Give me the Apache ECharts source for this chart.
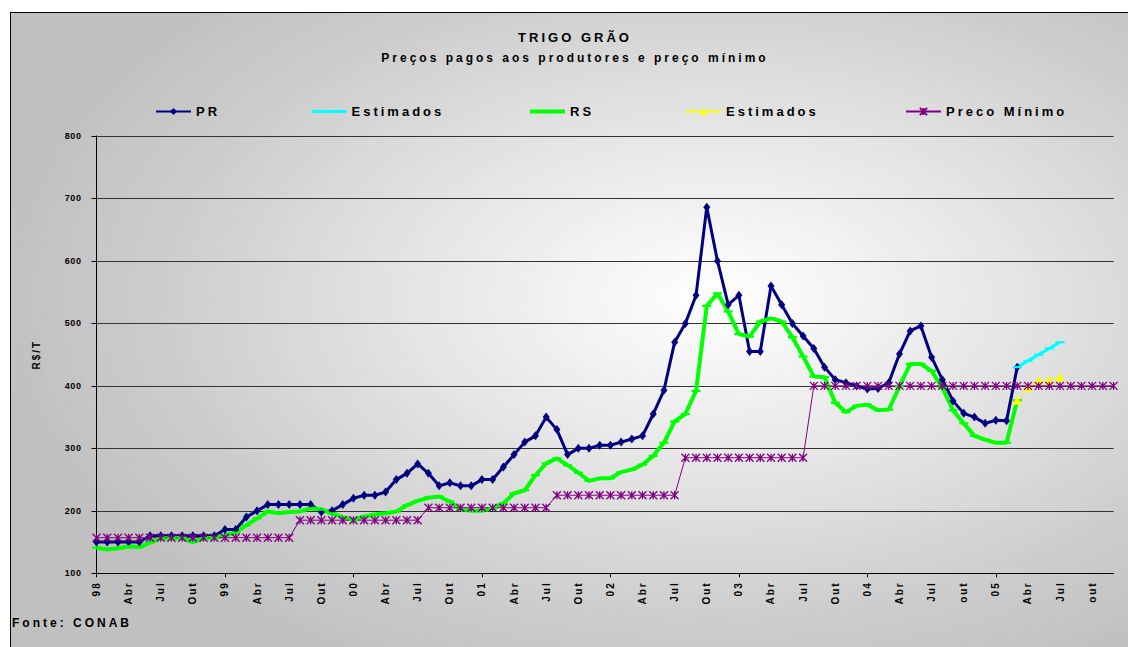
<!DOCTYPE html>
<html>
<head>
<meta charset="utf-8">
<title>Trigo grão</title>
<script src="https://cdn.jsdelivr.net/npm/echarts@6/dist/echarts.min.js"></script>
<style>
  html, body { margin: 0; padding: 0; background: #fff; }
  #frame {
    position: absolute; left: 10px; top: 12px; width: 1118px; height: 635px;
    box-sizing: border-box; border-left: 1px solid #000; border-top: 1px solid #000;
    background: radial-gradient(ellipse 720px 420px at 63% 45%, #ffffff 0%, #e6e6e6 40%, #cecece 75%, #c0c0c0 100%);
  }
  #chart { position: absolute; left: 0; top: 0; width: 1128px; height: 647px; }
  /* o grafico original tem texto bem espaçado */
  #chart text[style*="13px"], #chart text[style*="12px"] { letter-spacing: 3px; }
  #chart text[style*="10px"] { letter-spacing: 2px; }
  #chart text[style*="9px"] { letter-spacing: 0.6px; }
</style>
</head>
<body>
<div id="frame"></div>
<div id="chart"></div>
<script>
  // meses jan/98 .. dez/05
  const monthNames = ['Jan', 'Fev', 'Mar', 'Abr', 'Mai', 'Jun', 'Jul', 'Ago', 'Set', 'Out', 'Nov', 'Dez']
  const years = ['98', '99', '00', '01', '02', '03', '04', '05']
  const tickLabels = [
    '98', 'Abr', 'Jul', 'Out', '99', 'Abr', 'Jul', 'Out',
    '00', 'Abr', 'Jul', 'Out', '01', 'Abr', 'Jul', 'Out',
    '02', 'Abr', 'Jul', 'Out', '03', 'Abr', 'Jul', 'Out',
    '04', 'Abr', 'Jul', 'out', '05', 'Abr', 'Jul', 'out'
  ]

  // R$/T - PR (jan/98 .. mar/05)
  const pr = [
    150, 150, 150, 150, 150, 160, 160, 160, 160, 160, 160, 160,
    170, 170, 190, 200, 210, 210, 210, 210, 210, 198, 200, 210,
    220, 225, 225, 230, 250, 260, 275, 260, 240, 245, 240, 240,
    250, 250, 270, 290, 310, 320, 350, 330, 290, 300, 300, 305,
    305, 310, 315, 320, 355, 393, 470, 500, 545, 686, 600, 530,
    545, 455, 455, 560, 530, 500, 480, 460, 430, 410, 405, 400,
    395, 396, 405, 451, 488, 496, 446, 410, 376, 356, 350, 340,
    345, 344, 430
  ]
  // PR estimados (mar/05 .. jul/05)
  const prEstStart = 86
  const prEstimados = [430, 440, 450, 460, 470]

  // RS (jan/98 .. mar/05)
  const rs = [
    141, 138, 140, 143, 142, 149, 156, 156, 157, 150, 156, 157,
    161, 165, 177, 188, 199, 196, 198, 199, 204, 202, 196, 190,
    185, 191, 194, 196, 199, 209, 216, 221, 223, 215, 202, 200,
    200, 204, 212, 228, 233, 257, 276, 284, 273, 261, 248, 252,
    252, 262, 266, 274, 288, 309, 343, 355, 392, 528, 548, 519,
    483, 479, 503, 508, 503, 478, 447, 415, 414, 373, 358, 368,
    370, 361, 362, 399, 435, 435, 424, 397, 361, 340, 320, 314,
    309, 309, 377
  ]
  // RS estimados (mar/05 .. jul/05)
  const rsEstStart = 86
  const rsEstimados = [377, 398, 409, 409, 414]

  // preço mínimo (jan/98 .. dez/05)
  const precoMinimo = [
    157, 157, 157, 157, 157, 157, 157, 157, 157, 157, 157, 157,
    157, 157, 157, 157, 157, 157, 157, 185, 185, 185, 185, 185,
    185, 185, 185, 185, 185, 185, 185, 205, 205, 205, 205, 205,
    205, 205, 205, 205, 205, 205, 205, 225, 225, 225, 225, 225,
    225, 225, 225, 225, 225, 225, 225, 285, 285, 285, 285, 285,
    285, 285, 285, 285, 285, 285, 285, 400, 400, 400, 400, 400,
    400, 400, 400, 400, 400, 400, 400, 400, 400, 400, 400, 400,
    400, 400, 400, 400, 400, 400, 400, 400, 400, 400, 400, 400
  ]

  const categories = years.flatMap((y) => monthNames.map((m) => m + '/' + y))

  function placeAt(start, values) {
    const out = categories.map(() => null)
    values.forEach((v, k) => { out[start + k] = v })
    return out
  }

  const font = '"Liberation Sans", Arial, sans-serif'
  const dashSymbol = 'path://M0,0L12,0L12,3L0,3Z'
  const asterisk = 'path://M0,0L10,10M10,0L0,10M5,0L5,10'
  const noMarker = { color: 'rgba(0,0,0,0)', borderWidth: 0 }

  const chart = echarts.init(document.getElementById('chart'), null, { renderer: 'svg' })

  const legendBase = {
    orient: 'horizontal',
    top: 105,
    padding: 0,
    itemWidth: 35,
    itemHeight: 9,
    textStyle: { fontFamily: font, fontWeight: 'bold', fontSize: 13, color: '#000' },
    formatter: (name) => name.indexOf('Estimados') === 0 ? 'Estimados' : name
  }

  chart.setOption({
    animation: false,
    backgroundColor: 'transparent',
    title: {
      text: 'TRIGO GRÃO',
      subtext: 'Preços pagos aos produtores e preço mínimo',
      left: 575,
      top: 30,
      padding: 0,
      itemGap: 7,
      textAlign: 'center',
      textStyle: { fontFamily: font, fontWeight: 'bold', fontSize: 13, lineHeight: 14, color: '#000' },
      subtextStyle: { fontFamily: font, fontWeight: 'bold', fontSize: 12, lineHeight: 14, color: '#000' }
    },
    legend: [
      Object.assign({}, legendBase, { left: 155, data: ['PR'] }),
      Object.assign({}, legendBase, {
        left: 310,
        data: [{ name: 'Estimados PR', itemStyle: noMarker, lineStyle: { color: '#00ffff', width: 3 } }]
      }),
      Object.assign({}, legendBase, {
        left: 528,
        data: [{ name: 'RS', itemStyle: noMarker, lineStyle: { color: '#00ff00', width: 4 } }]
      }),
      Object.assign({}, legendBase, { left: 685, data: ['Estimados RS'] }),
      Object.assign({}, legendBase, { left: 905, data: ['Preco Mínimo'] })
    ],
    graphic: [{
      type: 'text',
      left: 12,
      top: 617,
      style: { text: 'Fonte: CONAB', font: 'bold 12px ' + font, fill: '#000' }
    }],
    grid: { left: 96.5, right: 14.4, top: 136, bottom: 73.7, containLabel: false },
    xAxis: {
      type: 'category',
      data: categories,
      boundaryGap: false,
      axisLine: { lineStyle: { color: '#000', width: 1 } },
      axisTick: { interval: (i) => i % 12 === 0, length: 4, lineStyle: { color: '#000' } },
      axisLabel: {
        interval: 2,
        rotate: 90,
        margin: 8,
        formatter: (v, i) => tickLabels[Math.floor(i / 3)],
        fontFamily: font, fontWeight: 'bold', fontSize: 10, color: '#000'
      },
      splitLine: { show: false }
    },
    yAxis: {
      type: 'value',
      min: 100,
      max: 800,
      interval: 100,
      name: 'R$/T',
      nameLocation: 'middle',
      nameGap: 55,
      nameTextStyle: { fontFamily: font, fontWeight: 'bold', fontSize: 10, color: '#000' },
      axisLine: { show: true, lineStyle: { color: '#000' } },
      axisTick: { show: true, length: 5, lineStyle: { color: '#000' } },
      axisLabel: { margin: 15, fontFamily: font, fontWeight: 'bold', fontSize: 9, color: '#000' },
      splitLine: { lineStyle: { color: '#333', width: 1 } }
    },
    series: [
      {
        name: 'PR', type: 'line', data: pr,
        showAllSymbol: true, symbol: 'diamond', symbolSize: [7, 9],
        color: '#000080',
        lineStyle: { color: '#000080', width: 3 },
        itemStyle: { color: '#000080', borderColor: '#000080', borderWidth: 0 }
      },
      {
        name: 'Estimados PR', type: 'line', data: placeAt(prEstStart, prEstimados),
        showAllSymbol: true, symbol: dashSymbol, symbolKeepAspect: true, symbolSize: 9,
        color: '#00ffff',
        lineStyle: { color: '#00ffff', width: 3 },
        itemStyle: { color: '#00ffff', borderWidth: 0 }
      },
      {
        name: 'RS', type: 'line', data: rs,
        showAllSymbol: true, symbol: dashSymbol, symbolKeepAspect: true, symbolSize: 9,
        color: '#00ff00',
        lineStyle: { color: '#00ff00', width: 4 },
        itemStyle: { color: '#00ff00', borderWidth: 0 }
      },
      {
        name: 'Estimados RS', type: 'line', data: placeAt(rsEstStart, rsEstimados),
        showAllSymbol: true, symbol: 'triangle', symbolSize: 9,
        color: '#ffff00',
        lineStyle: { color: '#ffff00', width: 1 },
        itemStyle: { color: '#ffff00', borderWidth: 0 }
      },
      {
        name: 'Preco Mínimo', type: 'line', data: precoMinimo,
        showAllSymbol: true, symbol: asterisk, symbolSize: 8,
        color: '#800080',
        lineStyle: { color: '#800080', width: 1 },
        itemStyle: { color: '#800080', borderColor: '#800080', borderWidth: 1.3 }
      }
    ]
  })
</script>
</body>
</html>
